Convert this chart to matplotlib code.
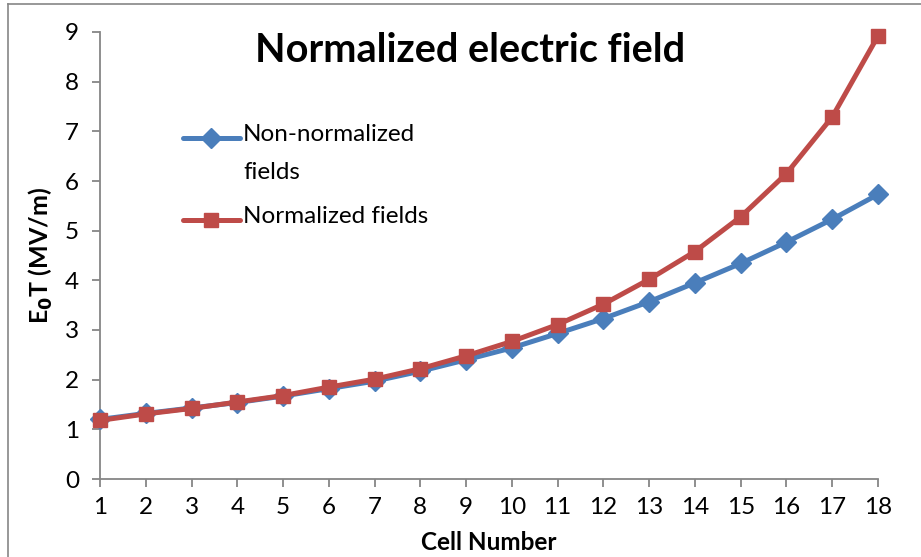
import matplotlib.pyplot as plt
from matplotlib.lines import Line2D

# Cell numbers and E0T values (MV/m)
cells = list(range(1, 19))
non_normalized = [1.20, 1.32, 1.43, 1.54, 1.67, 1.82, 1.97, 2.17, 2.40, 2.64,
                  2.93, 3.23, 3.57, 3.95, 4.34, 4.77, 5.23, 5.73]
normalized = [1.18, 1.31, 1.42, 1.55, 1.68, 1.85, 2.01, 2.22, 2.48, 2.77,
              3.11, 3.52, 4.02, 4.58, 5.28, 6.15, 7.29, 8.92]

BLUE = "#4A7EBB"
RED = "#BE4B48"
GREY = "#868686"
FONT = "Lato"

plt.rcParams["font.family"] = [FONT, "DejaVu Sans"]

W, H = 921, 557
fig = plt.figure(figsize=(W / 100, H / 100), dpi=100)
ax = fig.add_axes([100 / W, 1 - 479 / H, 778 / W, 447 / H])

series = [
    (non_normalized, BLUE, "D", 10, "Non-normalized\nfields"),
    (normalized, RED, "s", 10.5, "Normalized fields"),
]
for i, (vals, col, mk, ms, lab) in enumerate(series):
    ax.plot(cells, vals, color=col, lw=3.6, marker=mk, ms=ms,
            clip_on=False, zorder=3 + i)

ax.set_xlim(1, 18)
ax.set_ylim(0, 9)
ax.set_xticks(cells)
ax.set_yticks(range(0, 10))

for side in ("top", "right"):
    ax.spines[side].set_visible(False)
for side in ("left", "bottom"):
    ax.spines[side].set_color(GREY)
    ax.spines[side].set_linewidth(1.3)
ax.tick_params(direction="out", length=6, width=1.3, color=GREY,
               labelsize=17.5)
ax.tick_params(axis="y", pad=9)
ax.tick_params(axis="x", pad=7)

ax.set_xlabel("Cell Number", fontsize=17.5, fontweight="bold", labelpad=9)
ax.set_ylabel("E$_\\mathbf{0}$T (MV/m)", fontsize=18, fontweight="bold",
              labelpad=7)

fig.text(470 / W, 1 - 50 / H, "Normalized electric field",
         ha="center", va="center", fontsize=28.5, fontweight="bold")

# Legend: handle sits on the first line of each label
legend_rows = [(138, 0), (220, 1)]
for y_px, idx in legend_rows:
    vals, col, mk, ms, lab = series[idx]
    yf = 1 - y_px / H
    fig.add_artist(Line2D([183 / W, 240 / W], [yf, yf],
                          transform=fig.transFigure, color=col, lw=3.6,
                          solid_capstyle="round"))
    fig.add_artist(Line2D([211 / W], [yf], transform=fig.transFigure,
                          color=col, marker=mk, ms=ms, lw=0))
    fig.text(243 / W, yf + 14 / H, lab, ha="left", va="top", fontsize=17.5,
             linespacing=2.0)

# Outer frame (left and top edges)
fig.add_artist(Line2D([8 / W, 8 / W], [0, 1 - 4 / H],
                      transform=fig.transFigure, color=GREY, lw=1.2))
fig.add_artist(Line2D([8 / W, 1], [1 - 4 / H, 1 - 4 / H],
                      transform=fig.transFigure, color=GREY, lw=1.2))

plt.savefig("out.png", dpi=100)
